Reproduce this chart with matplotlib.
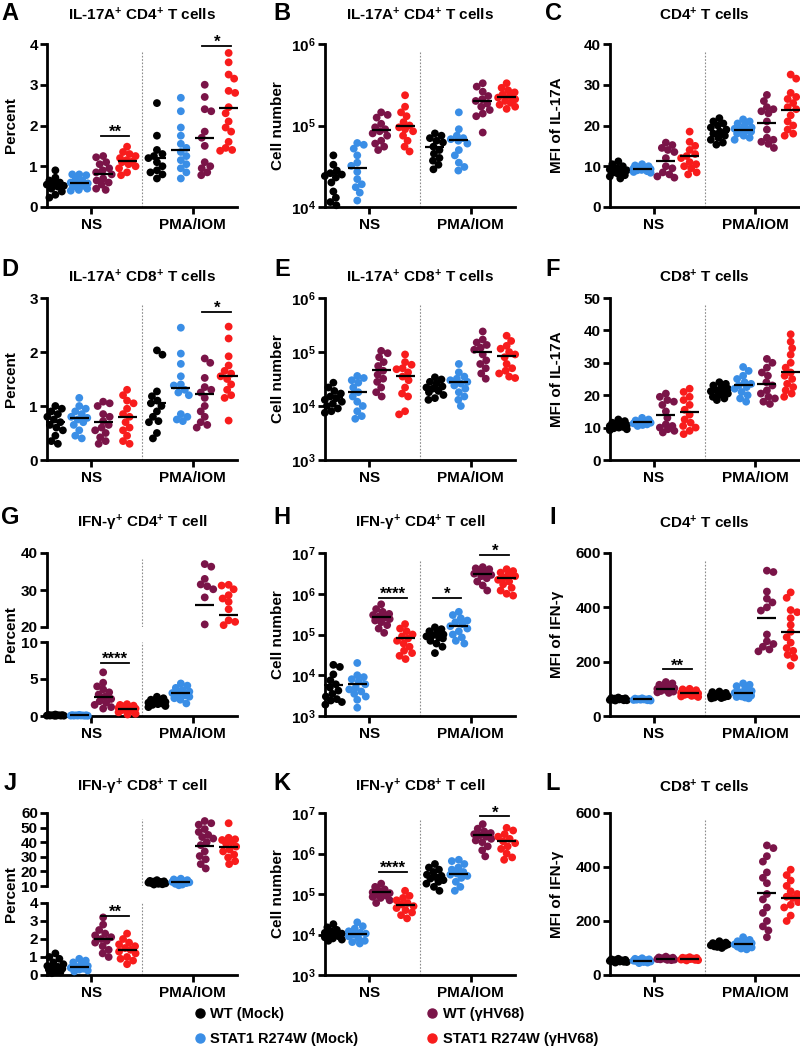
import numpy as np
import matplotlib
matplotlib.use('Agg')
import matplotlib.pyplot as plt
from matplotlib.lines import Line2D
from matplotlib.ticker import FuncFormatter, NullLocator, FixedLocator

plt.rcParams['font.family'] = ['Liberation Sans', 'DejaVu Sans']
plt.rcParams['font.weight'] = 'bold'
plt.rcParams['mathtext.fontset'] = 'custom'
plt.rcParams['mathtext.rm'] = 'Liberation Sans:bold'
plt.rcParams['mathtext.bf'] = 'Liberation Sans:bold'
plt.rcParams['mathtext.it'] = 'Liberation Sans:bold:italic'
plt.rcParams['mathtext.default'] = 'rm'

# ---------------- data ----------------
group_labels = ['WT (Mock)', 'STAT1 R274W (Mock)', 'WT (γHV68)', 'STAT1 R274W (γHV68)']
conditions = ['NS', 'PMA/IOM']
colors = ['#000000', '#3a8ee6', '#7a1448', '#f81c1c']

# order of groups in each panel: NS x4 (WT Mock, STAT1 Mock, WT γHV68, STAT1 γHV68), PMA/IOM x4
A_vals = [[0.9, 0.72, 0.65, 0.6, 0.57, 0.55, 0.52, 0.5, 0.45, 0.38, 0.3, 0.23],
          [0.8, 0.8, 0.78, 0.7, 0.65, 0.6, 0.58, 0.55, 0.52, 0.5, 0.45, 0.42, 0.4],
          [1.25, 1.22, 1.1, 1.05, 0.95, 0.9, 0.85, 0.8, 0.7, 0.65, 0.6, 0.55, 0.45, 0.42],
          [1.48, 1.35, 1.3, 1.25, 1.2, 1.15, 1.12, 1.1, 1.05, 1.0, 0.95, 0.85, 0.78],
          [2.55, 1.75, 1.4, 1.3, 1.25, 1.2, 1.1, 1.0, 0.9, 0.85, 0.8, 0.7],
          [2.68, 2.35, 1.95, 1.75, 1.55, 1.45, 1.35, 1.25, 1.15, 1.05, 0.95, 0.85, 0.7],
          [3.0, 2.7, 2.4, 2.35, 1.85, 1.7, 1.5, 1.1, 1.0, 0.95, 0.85, 0.78],
          [3.78, 3.55, 3.25, 3.15, 2.85, 2.8, 2.45, 2.3, 2.1, 1.95, 1.85, 1.6, 1.45, 1.4, 1.38]]
A_means = [0.55, 0.6, 0.8, 1.12, 1.2, 1.4, 1.7, 2.42]
A_sig = [(2, 3, 1.75, '**'), (6, 7, 3.95, '*')]

B_vals = [[4.3e4, 3.3e4, 2.8e4, 2.6e4, 2.5e4, 2.4e4, 2.3e4, 2.0e4, 1.55e4, 1.3e4, 1.15e4, 1.05e4],
          [6.1e4, 5.8e4, 5.2e4, 4.3e4, 3.5e4, 3.2e4, 2.7e4, 2.2e4, 1.9e4, 1.75e4, 1.5e4, 1.2e4],
          [1.45e5, 1.35e5, 1.25e5, 1.05e5, 9.5e4, 9e4, 8.5e4, 8e4, 7.5e4, 6.5e4, 6e4, 5.5e4, 5e4],
          [2.35e5, 1.7e5, 1.45e5, 1.3e5, 1.1e5, 1.0e5, 9.5e4, 9e4, 8.5e4, 7.5e4, 6.5e4, 5.5e4, 4.8e4],
          [8e4, 7.5e4, 7e4, 6.5e4, 6.2e4, 5.5e4, 5e4, 4.5e4, 4e4, 3.7e4, 3.3e4, 2.9e4],
          [1.45e5, 9e4, 7.5e4, 7e4, 6.8e4, 6.5e4, 6e4, 5e4, 4.3e4, 3.5e4, 3.1e4, 2.8e4],
          [3.3e5, 3.0e5, 2.6e5, 2.3e5, 2.1e5, 2.0e5, 1.85e5, 1.7e5, 1.55e5, 1.4e5, 1.3e5, 8.2e4],
          [3.3e5, 2.9e5, 2.7e5, 2.55e5, 2.4e5, 2.3e5, 2.2e5, 2.1e5, 2.0e5, 1.9e5, 1.8e5, 1.7e5, 1.6e5]]
B_means = [2.6e4, 3.05e4, 8.8e4, 1.0e5, 5.5e4, 6.6e4, 2.0e5, 2.25e5]
B_sig = []

C_vals = [[11.2, 10.5, 10, 9.5, 9.2, 9, 8.8, 8.5, 8.2, 7.8, 7.5, 7.0],
          [10.5, 10.2, 10, 9.8, 9.6, 9.5, 9.3, 9.1, 9, 8.8, 8.6, 8.4],
          [15.8, 15.2, 14.5, 14, 13.5, 12, 10, 9.5, 8.5, 8, 7.5, 7.2],
          [18.5, 16, 15, 14, 13, 12.5, 12, 11, 10.5, 10, 9.5, 8.5, 8],
          [21.8, 21, 20.5, 20, 19.5, 19, 18.5, 18, 17.5, 17, 16.5, 15.8, 15.3],
          [21.5, 21, 20.5, 20, 19.5, 19.2, 19, 18.8, 18.5, 18, 17.5, 17, 16.5],
          [27.5, 26, 24.5, 24, 23.5, 23, 21, 19, 17, 16.5, 16, 15.5, 14.5],
          [32.5, 31.5, 28, 27, 26.5, 25.5, 24.5, 24, 22.5, 21, 20, 19, 18, 17.5]]
C_means = [8.9, 9.4, 11.3, 12.4, 18.5, 19.0, 20.7, 23.8]
C_sig = []

D_vals = [[1.0, 0.95, 0.9, 0.85, 0.8, 0.75, 0.7, 0.65, 0.6, 0.55, 0.45, 0.35, 0.3],
          [1.15, 1.0, 0.95, 0.9, 0.85, 0.8, 0.78, 0.75, 0.7, 0.65, 0.55, 0.45, 0.4],
          [1.08, 1.05, 1.0, 0.85, 0.8, 0.72, 0.65, 0.6, 0.55, 0.5, 0.42, 0.35, 0.3],
          [1.3, 1.2, 1.1, 1.05, 0.95, 0.85, 0.8, 0.7, 0.6, 0.55, 0.45, 0.35, 0.3],
          [2.03, 1.95, 1.27, 1.18, 1.1, 1.05, 1.0, 0.9, 0.8, 0.72, 0.7, 0.5, 0.4],
          [2.45, 1.97, 1.78, 1.55, 1.4, 1.38, 1.3, 1.25, 1.2, 0.85, 0.8, 0.75, 0.72],
          [1.88, 1.8, 1.52, 1.35, 1.3, 1.25, 1.15, 1.0, 0.9, 0.8, 0.7, 0.65, 0.6],
          [2.47, 2.25, 1.92, 1.75, 1.65, 1.6, 1.55, 1.5, 1.4, 1.3, 1.2, 1.15, 0.73]]
D_means = [0.7, 0.77, 0.7, 0.8, 1.05, 1.33, 1.22, 1.55]
D_sig = [(6, 7, 2.74, '*')]

E_vals = [[2.7e4, 2.2e4, 1.9e4, 1.7e4, 1.5e4, 1.4e4, 1.3e4, 1.2e4, 1.1e4, 1.0e4, 9e3, 8e3, 7.5e3],
          [3.6e4, 3.3e4, 3.0e4, 2.7e4, 2.2e4, 1.8e4, 1.5e4, 1.2e4, 1.0e4, 8e3, 6.5e3, 5.8e3],
          [1.05e5, 9.5e4, 8e4, 6.5e4, 5.5e4, 4.5e4, 3.8e4, 3.2e4, 2.8e4, 2.2e4, 1.8e4, 1.5e4],
          [9e4, 6.5e4, 5.8e4, 5e4, 4.8e4, 4.2e4, 3.5e4, 3e4, 2.2e4, 1.7e4, 1.5e4, 8e3, 7e3],
          [3.4e4, 3.1e4, 2.8e4, 2.6e4, 2.3e4, 2.2e4, 2.1e4, 1.9e4, 1.8e4, 1.6e4, 1.4e4, 1.3e4],
          [6e4, 4.2e4, 3.5e4, 3.2e4, 3e4, 2.8e4, 2.6e4, 2.4e4, 2.1e4, 1.8e4, 1.5e4, 1.3e4, 1e4],
          [2.4e5, 1.7e5, 1.5e5, 1.35e5, 1.2e5, 1.1e5, 9e4, 7e4, 6e4, 5e4, 4e4, 3.2e4],
          [2.0e5, 1.6e5, 1.3e5, 1.15e5, 1.0e5, 9e4, 8e4, 6e4, 5e4, 4.5e4, 4e4, 3.5e4, 3.3e4]]
E_means = [1.46e4, 1.8e4, 4.7e4, 3.65e4, 2.2e4, 2.75e4, 1.02e5, 8.6e4]
E_sig = []

F_vals = [[12.5, 12, 11.5, 11.2, 11, 10.8, 10.5, 10.2, 10, 9.8, 9.5, 9.2],
          [13, 12.5, 12.2, 12, 11.8, 11.5, 11.3, 11, 10.8, 10.5],
          [20.5, 19.5, 18.5, 18, 17, 15, 13, 11, 10.5, 10, 9.5, 9, 8.5],
          [22, 21, 19.5, 18.5, 17, 15.5, 14, 12.5, 11.5, 10.5, 10, 9, 8],
          [24, 23.5, 23, 22.5, 22, 21.5, 21.2, 21, 20.5, 20, 19.5, 19, 18.5],
          [28.7, 27.5, 26, 25, 24, 23.5, 23, 22.5, 22, 21, 20, 19, 18],
          [31.2, 30, 28.5, 27, 26, 24, 23, 21.5, 20.5, 19.5, 19, 18, 17.3],
          [38.8, 36.5, 34.5, 32.5, 30, 28.5, 27, 26, 25, 23.5, 22.5, 21.5, 20.5, 19.5]]
F_means = [10.8, 11.6, 13.8, 14.8, 21.3, 23.1, 23.6, 27.2]
F_sig = []

G_vals = [[0.2, 0.15, 0.12, 0.1, 0.1, 0.08, 0.07, 0.06, 0.05, 0.05, 0.04, 0.03],
          [0.15, 0.12, 0.1, 0.09, 0.08, 0.07, 0.06, 0.05, 0.05, 0.04, 0.03],
          [5.9, 4.5, 4.0, 3.6, 3.2, 2.9, 2.6, 2.3, 2.0, 1.8, 1.5, 1.2, 1.0],
          [1.6, 1.5, 1.4, 1.3, 1.2, 1.1, 1.0, 0.9, 0.8, 0.7, 0.5, 0.3, 0.2],
          [2.6, 2.4, 2.2, 2.1, 2.0, 1.9, 1.8, 1.7, 1.6, 1.5, 1.35, 1.2],
          [4.4, 4.1, 3.8, 3.5, 3.3, 3.1, 3.0, 2.8, 2.6, 2.4, 2.2, 1.7],
          [37.0, 36.3, 33.0, 31.5, 31.0, 30.2, 28.0, 20.7],
          [31.4, 31.2, 30.2, 28.6, 27.7, 26.8, 24.8, 21.8, 21.4, 20.5]]
G_means = [0.1, 0.08, 2.6, 0.98, 1.9, 3.1, 25.9, 23.3]
G_sig = [(2, 3, 7.2, '****')]

H_vals = [[1.8e4, 1.6e4, 1.05e4, 7.5e3, 6e3, 5e3, 4.2e3, 3.5e3, 3e3, 2.6e3, 2.4e3, 2.2e3, 1.9e3],
          [2e4, 1e4, 9e3, 8e3, 7e3, 6e3, 5e3, 4.5e3, 4e3, 3.5e3, 3e3, 2.5e3, 1.6e3],
          [5.5e5, 4.2e5, 3.6e5, 3.2e5, 3e5, 2.8e5, 2.6e5, 2.4e5, 2.2e5, 2e5, 1.7e5, 1.4e5, 1.1e5],
          [1.8e5, 1.4e5, 1.2e5, 1.0e5, 9e4, 8e4, 7e4, 6e4, 5e4, 4e4, 3.5e4, 3e4, 2.5e4],
          [1.5e5, 1.35e5, 1.2e5, 1.1e5, 1.0e5, 9.5e4, 9e4, 8.5e4, 8e4, 7e4, 6e4, 5e4, 3.5e4],
          [3.6e5, 3e5, 2.5e5, 2.2e5, 2e5, 1.8e5, 1.6e5, 1.4e5, 1.2e5, 1.0e5, 8.5e4, 7e4, 6e4],
          [4.5e6, 4.2e6, 4e6, 3.6e6, 3.3e6, 3.1e6, 2.9e6, 2.7e6, 2.4e6, 2.0e6, 1.6e6, 1.2e6],
          [4.0e6, 3.6e6, 3.3e6, 3.0e6, 2.7e6, 2.5e6, 2.2e6, 2.0e6, 1.7e6, 1.4e6, 1.2e6, 1.0e6, 9e5]]
H_means = [5.7e3, 6e3, 2.67e5, 8e4, 9.1e4, 1.6e5, 3.1e6, 2.4e6]
H_sig = [(2, 3, 8e5, '****'), (4, 5, 8e5, '*'), (6, 7, 9.1e6, '*')]

I_vals = [[68, 66, 65, 64, 63, 62, 61, 60, 59, 58, 58, 57],
          [65, 64, 63, 62, 61, 61, 60, 60, 59, 58, 57],
          [125, 120, 115, 110, 105, 102, 100, 97, 95, 92, 90, 87, 85],
          [100, 98, 95, 90, 87, 85, 83, 80, 78, 76, 74, 72, 70],
          [90, 88, 85, 80, 78, 75, 73, 72, 70, 68, 66, 65],
          [120, 115, 110, 100, 92, 88, 85, 80, 75, 72, 70, 68, 65],
          [535, 530, 458, 432, 418, 400, 388, 300, 275, 265, 255, 245, 238],
          [455, 435, 390, 382, 360, 335, 310, 290, 270, 250, 240, 225, 215, 185]]
I_means = [63, 61, 100, 83, 75, 85, 361, 309]
I_sig = [(2, 3, 172, '**')]

J_vals = [[1.2, 1.0, 0.9, 0.7, 0.6, 0.5, 0.45, 0.4, 0.35, 0.3, 0.2, 0.15, 0.1],
          [0.9, 0.8, 0.7, 0.6, 0.5, 0.45, 0.4, 0.35, 0.3, 0.25, 0.2],
          [3.2, 2.8, 2.5, 2.3, 2.2, 2.1, 2.0, 1.9, 1.8, 1.6, 1.4, 1.2, 1.0],
          [2.3, 2.0, 1.8, 1.7, 1.6, 1.5, 1.4, 1.3, 1.2, 1.0, 0.9, 0.8, 0.6],
          [14, 13.5, 13.2, 13, 12.8, 12.5, 12.3, 12, 11.8, 11.5, 11.2, 11],
          [15, 14.5, 14, 13.5, 13.2, 13, 12.8, 12.5, 12, 11.5, 11, 10.5],
          [54.5, 53, 52, 49, 47, 45, 43.5, 42.5, 40, 38, 33.7, 30.5, 28.3, 25, 22],
          [53, 43, 42, 41.5, 40, 39, 37, 35, 33.7, 31.5, 29.5, 27, 25]]
J_means = [0.5, 0.45, 2.0, 1.4, 12.5, 12.8, 37.7, 36.8]
J_sig = [(2, 3, 3.3, '**')]

K_vals = [[1.8e4, 1.5e4, 1.3e4, 1.2e4, 1.1e4, 1.05e4, 1e4, 9.5e3, 9e3, 8.5e3, 8e3, 7.5e3, 7e3],
          [2e4, 1.6e4, 1.4e4, 1.2e4, 1.1e4, 1.05e4, 1e4, 9e3, 8e3, 7e3, 6.5e3, 6e3],
          [1.8e5, 1.5e5, 1.3e5, 1.2e5, 1.1e5, 1.05e5, 1e5, 9.5e4, 9e4, 8.5e4, 8e4, 7e4, 6e4],
          [1.2e5, 9e4, 8e4, 7e4, 6e4, 5.5e4, 5e4, 4.5e4, 4e4, 3.5e4, 3e4, 2.5e4],
          [5.5e5, 4.5e5, 4e5, 3.5e5, 3e5, 2.8e5, 2.6e5, 2.4e5, 2.2e5, 2e5, 1.8e5, 1.5e5, 1.2e5],
          [7e5, 6.5e5, 5.5e5, 4.5e5, 4e5, 3.5e5, 3.2e5, 3e5, 2.8e5, 2.5e5, 2e5, 1.5e5, 1.2e5],
          [5.3e6, 4.1e6, 3.5e6, 3.2e6, 3.0e6, 2.8e6, 2.6e6, 2.3e6, 2.1e6, 1.9e6, 1.5e6, 1.2e6, 8.5e5],
          [4.3e6, 3.7e6, 3.0e6, 2.6e6, 2.3e6, 2.0e6, 1.8e6, 1.5e6, 1.3e6, 1.0e6, 8e5, 7e5]]
K_means = [1.1e4, 1.05e4, 1.1e5, 5.5e4, 2.8e5, 3.2e5, 2.8e6, 2.0e6]
K_sig = [(2, 3, 3.5e5, '****'), (6, 7, 8.3e6, '*')]

L_vals = [[60, 58, 56, 55, 54, 53, 52, 51, 50, 49, 48, 46],
          [62, 60, 58, 56, 55, 54, 53, 52, 50, 48, 46, 44],
          [68, 65, 64, 62, 61, 60, 59, 58, 57, 56, 55],
          [66, 64, 63, 62, 61, 60, 59, 58, 57, 56, 55, 54],
          [125, 120, 118, 116, 115, 113, 112, 110, 108, 106, 104, 100],
          [140, 130, 125, 120, 118, 115, 113, 110, 108, 105, 102, 98, 95],
          [480, 470, 440, 420, 380, 360, 340, 300, 280, 250, 230, 200, 180, 165, 140],
          [390, 370, 350, 330, 310, 300, 290, 285, 270, 260, 250, 220, 200]]
L_means = [52, 53, 60, 60, 113, 115, 305, 285]
L_sig = []

SUP = r'$^{+}$'
panels = [
    dict(key='A', vals=A_vals, means=A_means, sig=A_sig, title='IL-17A' + SUP + ' CD4' + SUP + ' T cells',
         ylabel='Percent', scale='linear', ylim=(0, 4), yticks=[0, 1, 2, 3, 4]),
    dict(key='B', vals=B_vals, means=B_means, sig=B_sig, title='IL-17A' + SUP + ' CD4' + SUP + ' T cells',
         ylabel='Cell number', scale='log', ylim=(1e4, 1e6), yticks=[1e4, 1e5, 1e6]),
    dict(key='C', vals=C_vals, means=C_means, sig=C_sig, title='CD4' + SUP + ' T cells',
         ylabel='MFI of IL-17A', scale='linear', ylim=(0, 40), yticks=[0, 10, 20, 30, 40]),
    dict(key='D', vals=D_vals, means=D_means, sig=D_sig, title='IL-17A' + SUP + ' CD8' + SUP + ' T cells',
         ylabel='Percent', scale='linear', ylim=(0, 3), yticks=[0, 1, 2, 3]),
    dict(key='E', vals=E_vals, means=E_means, sig=E_sig, title='IL-17A' + SUP + ' CD8' + SUP + ' T cells',
         ylabel='Cell number', scale='log', ylim=(1e3, 1e6), yticks=[1e3, 1e4, 1e5, 1e6]),
    dict(key='F', vals=F_vals, means=F_means, sig=F_sig, title='CD8' + SUP + ' T cells',
         ylabel='MFI of IL-17A', scale='linear', ylim=(0, 50), yticks=[0, 10, 20, 30, 40, 50]),
    dict(key='G', vals=G_vals, means=G_means, sig=G_sig, title='IFN-γ' + SUP + ' CD4' + SUP + ' T cell',
         ylabel='Percent', scale='broken',
         upper=(20, 40), upper_ticks=[20, 30, 40], lower=(0, 10), lower_ticks=[0, 5, 10],
         split=15, upper_px=(553, 627), lower_px=(642, 716)),
    dict(key='H', vals=H_vals, means=H_means, sig=H_sig, title='IFN-γ' + SUP + ' CD4' + SUP + ' T cell',
         ylabel='Cell number', scale='log', ylim=(1e3, 1e7), yticks=[1e3, 1e4, 1e5, 1e6, 1e7]),
    dict(key='I', vals=I_vals, means=I_means, sig=I_sig, title='CD4' + SUP + ' T cells',
         ylabel='MFI of IFN-γ', scale='linear', ylim=(0, 600), yticks=[0, 200, 400, 600]),
    dict(key='J', vals=J_vals, means=J_means, sig=J_sig, title='IFN-γ' + SUP + ' CD8' + SUP + ' T cell',
         ylabel='Percent', scale='broken',
         upper=(10, 60), upper_ticks=[10, 20, 30, 40, 50, 60], lower=(0, 4), lower_ticks=[0, 1, 2, 3, 4],
         split=6, upper_px=(813, 886), lower_px=(903, 975)),
    dict(key='K', vals=K_vals, means=K_means, sig=K_sig, title='IFN-γ' + SUP + ' CD8' + SUP + ' T cell',
         ylabel='Cell number', scale='log', ylim=(1e3, 1e7), yticks=[1e3, 1e4, 1e5, 1e6, 1e7]),
    dict(key='L', vals=L_vals, means=L_means, sig=L_sig, title='CD8' + SUP + ' T cells',
         ylabel='MFI of IFN-γ', scale='linear', ylim=(0, 600), yticks=[0, 200, 400, 600]),
]

# ---------------- layout ----------------
W, H = 800, 1061
fig = plt.figure(figsize=(W / 100, H / 100), dpi=100)

def fx(px):
    return px / W

def fy(py):
    return 1 - py / H

col_lr = [(47, 237), (325, 515), (610, 799)]
row_tb = [(44, 207), (298, 460), (553, 716), (813, 975)]
title_y = [15, 277, 523, 787]
letter_y = [14, 270, 518, 783]
letter_x = [10, 282, 553]
ylabel_x = [11, 278, 557]

xpos = [0, 1, 2, 3, 4.25, 5.25, 6.25, 7.25]
xlim = (-0.35, 7.6)
ns_tick, pma_tick, divider_x = 1.5, 5.75, 3.625

DOT = 7.8          # dot diameter in px
MAXHALF = 8.5      # maximum horizontal spread of dot centres (px)
SPINE_W = 2.0


def make_axes(left, right, top, bottom):
    return fig.add_axes([fx(left), fy(bottom), fx(right - left), (bottom - top) / H])


def style(ax, bottom=True):
    ax.set_xlim(*xlim)
    for s in ['top', 'right']:
        ax.spines[s].set_visible(False)
    ax.spines['left'].set_linewidth(SPINE_W)
    ax.spines['bottom'].set_linewidth(SPINE_W)
    ax.tick_params(axis='y', length=5, width=SPINE_W, direction='out', labelsize=11, pad=1.5)
    ax.yaxis.set_minor_locator(NullLocator())
    if bottom:
        ax.set_xticks([ns_tick, pma_tick])
        ax.set_xticklabels(conditions)
        ax.tick_params(axis='x', length=5, width=SPINE_W, direction='out', labelsize=11, pad=3)
    else:
        ax.spines['bottom'].set_visible(False)
        ax.set_xticks([])
    for lab in ax.get_xticklabels() + ax.get_yticklabels():
        lab.set_fontweight('bold')
    ax.patch.set_alpha(0)


def swarm_x(ax, xc, vals):
    vals = np.asarray(vals, float)
    pts = ax.transData.transform(np.column_stack([np.full(len(vals), xc), vals]))
    x0 = pts[0, 0]
    ypix = pts[:, 1]
    order = np.argsort(-ypix)
    placed = []
    offs = np.zeros(len(vals))
    mind = DOT * 0.85
    cands = [0.0]
    k = 1
    while k * 0.5 <= MAXHALF:
        cands += [k * 0.5, -k * 0.5] if (k % 2) else [-k * 0.5, k * 0.5]
        k += 1
    for i in order:
        y = ypix[i]
        chosen = None
        for c in cands:
            if all((c - px) ** 2 + (y - py) ** 2 >= mind ** 2 for px, py in placed):
                chosen = c
                break
        if chosen is None:
            chosen = max(cands, key=lambda c: min((c - px) ** 2 + (y - py) ** 2 for px, py in placed))
        placed.append((chosen, y))
        offs[i] = chosen
    data = ax.transData.inverted().transform(np.column_stack([x0 + offs, ypix]))
    return data[:, 0]


def draw_groups(ax, vals, means, keep):
    for g in range(8):
        v = [val for val in vals[g] if keep(val)]
        if v:
            xs = swarm_x(ax, xpos[g], v)
            ax.scatter(xs, v, s=(DOT * 0.72) ** 2, color=colors[g % 4], edgecolors='none',
                       zorder=3, clip_on=False)
        if keep(means[g]):
            ax.plot([xpos[g] - 0.4, xpos[g] + 0.4], [means[g], means[g]], color='black',
                    lw=1.6, zorder=4, solid_capstyle='butt', clip_on=False)


def draw_sig(ax, sig, keep=lambda v: True):
    for gi, gj, yv, txt in sig:
        if not keep(yv):
            continue
        mid = (xpos[gi] + xpos[gj]) / 2
        ax.plot([mid - 0.6, mid + 0.6], [yv, yv], color='black', lw=1.3, zorder=5, clip_on=False)
        ax.annotate(txt, (mid, yv), xytext=(0, -3), textcoords='offset points', ha='center',
                    va='bottom', fontsize=12, fontweight='bold', annotation_clip=False)


log_fmt = FuncFormatter(lambda v, pos: r'$10^{%d}$' % int(round(np.log10(v))))

for idx, p in enumerate(panels):
    r, c = divmod(idx, 3)
    left, right = col_lr[c]
    top, bottom = row_tb[r]
    cx = (left + right) / 2
    if p['scale'] == 'broken':
        ut, ub = p['upper_px']
        lt, lb = p['lower_px']
        axu = make_axes(left, right, ut, ub)
        axl = make_axes(left, right, lt, lb)
        axu.set_ylim(*p['upper'])
        axl.set_ylim(*p['lower'])
        style(axu, bottom=False)
        style(axl, bottom=True)
        axu.yaxis.set_major_locator(FixedLocator(p['upper_ticks']))
        axl.yaxis.set_major_locator(FixedLocator(p['lower_ticks']))
        split = p['split']
        draw_groups(axu, p['vals'], p['means'], lambda v, s=split: v >= s)
        draw_groups(axl, p['vals'], p['means'], lambda v, s=split: v < s)
        draw_sig(axl, p['sig'], lambda v, s=split: v < s)
        draw_sig(axu, p['sig'], lambda v, s=split: v >= s)
        axu.axvline(divider_x, ymin=0, ymax=0.92, color='#8c8c8c', lw=0.8, ls=(0, (1.5, 1.5)), zorder=1)
        axl.axvline(divider_x, ymin=0, ymax=1, color='#8c8c8c', lw=0.8, ls=(0, (1.5, 1.5)), zorder=1)
        for lab in axu.get_yticklabels() + axl.get_yticklabels():
            lab.set_fontweight('bold')
        ycen = (ut + lb) / 2
    else:
        ax = make_axes(left, right, top, bottom)
        if p['scale'] == 'log':
            ax.set_yscale('log')
        ax.set_ylim(*p['ylim'])
        style(ax)
        ax.yaxis.set_major_locator(FixedLocator(p['yticks']))
        if p['scale'] == 'log':
            ax.yaxis.set_major_formatter(log_fmt)
        ax.yaxis.set_minor_locator(NullLocator())
        draw_groups(ax, p['vals'], p['means'], lambda v: True)
        draw_sig(ax, p['sig'])
        ax.axvline(divider_x, ymin=0, ymax=0.96, color='#8c8c8c', lw=0.8, ls=(0, (1.5, 1.5)), zorder=1)
        ycen = (top + bottom) / 2
    fig.text(fx(cx), fy(title_y[r]), p['title'], ha='center', va='center', fontsize=11, fontweight='bold')
    fig.text(fx(letter_x[c]), fy(letter_y[r]), p['key'], ha='center', va='center', fontsize=17,
             fontweight='bold')
    fig.text(fx(ylabel_x[c]), fy(ycen), p['ylabel'], ha='center', va='center', rotation=90,
             fontsize=11, fontweight='bold')

handles = [Line2D([], [], marker='o', ls='', color=colors[i], markersize=6.5) for i in range(4)]
fig.legend(handles, group_labels, ncol=2, loc='upper left', bbox_to_anchor=(fx(193), fy(1007)),
           frameon=False, handletextpad=0.3, columnspacing=4.6, labelspacing=0.75,
           handlelength=0.9, borderpad=0, borderaxespad=0, prop={'weight': 'bold', 'size': 10.5})

fig.savefig('out.png', dpi=100)
